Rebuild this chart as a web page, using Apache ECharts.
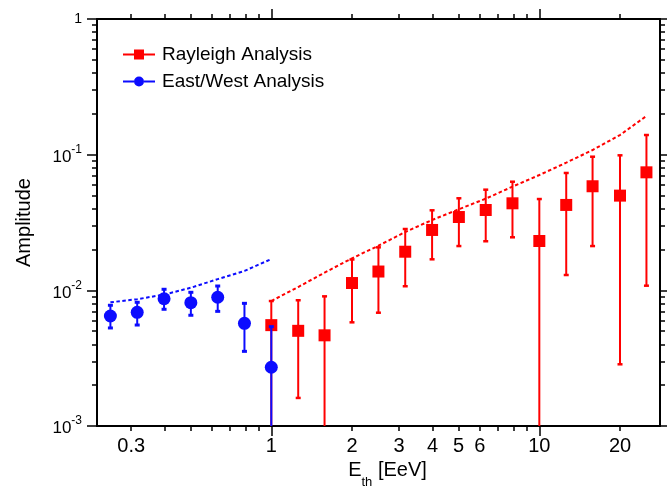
<!DOCTYPE html>
<html><head><meta charset="utf-8">
<script src="https://cdn.jsdelivr.net/npm/echarts@6/dist/echarts.min.js"></script>
<style>html,body{margin:0;padding:0;background:#fff}#c{width:667px;height:487px}</style>
</head><body><div id="c"></div>
<script>
// ---- data ----
const rayleighE    = [1.0, 1.26, 1.58, 2.0, 2.51, 3.16, 3.98, 5.01, 6.31, 7.94, 10.0, 12.6, 15.8, 20.0, 25.1];
const rayleighAmp  = [0.00554, 0.00503, 0.00466, 0.01132, 0.01376, 0.01926, 0.02786, 0.0347, 0.0391, 0.0438, 0.0231, 0.0426, 0.0585, 0.0499, 0.0741];
const rayleighLow  = [0, 0.00161, 0, 0.00581, 0.00684, 0.01072, 0.01693, 0.0212, 0.0230, 0.0246, 0, 0.01297, 0.0212, 0.00285, 0.01082];
const rayleighHigh = [0.00834, 0.00845, 0.00903, 0.01688, 0.02075, 0.02832, 0.0389, 0.0477, 0.0552, 0.0632, 0.0471, 0.0733, 0.0966, 0.0989, 0.1396];
const rayleighUL   = [0.00834, 0.01058, 0.0135, 0.01722, 0.02133, 0.0269, 0.0330, 0.0396, 0.0474, 0.0581, 0.0708, 0.0873, 0.1082, 0.1396, 0.1927];

const ewE    = [0.251, 0.316, 0.398, 0.501, 0.631, 0.794, 1.0];
const ewAmp  = [0.00647, 0.00689, 0.00867, 0.00811, 0.00889, 0.00571, 0.00271];
const ewLow  = [0.00528, 0.00555, 0.00725, 0.00655, 0.0070, 0.00355, 0];
const ewHigh = [0.00776, 0.00816, 0.01018, 0.00967, 0.01076, 0.00802, 0.0054];
const ewUL   = [0.00816, 0.0086, 0.0093, 0.01045, 0.0121, 0.0139, 0.0170];

const xTickLabels = [0.3, 1, 2, 3, 4, 5, 6, 10, 20];
const xMajorTicks = [1, 10];
const xMinorTicks = [0.3, 0.4, 0.5, 0.6, 0.7, 0.8, 0.9, 2, 3, 4, 5, 6, 7, 8, 9, 20];
const yTickLabels = [0.001, 0.01, 0.1, 1];
const yMinorMultipliers = [2, 3, 4, 5, 6, 7, 8, 9];

const X_MIN = 0.2237, X_MAX = 28.2, Y_MIN = 0.001, Y_MAX = 1;
const RED = '#ff0000', BLUE = '#0c0cff';
const FONT = 'Liberation Sans, Arial, sans-serif';

const yMinorTicks = [];
[0.001, 0.01, 0.1].forEach(d => yMinorMultipliers.forEach(m => yMinorTicks.push(+(m * d).toPrecision(3))));

const pts = (xs, ys) => xs.map((x, i) => [x, ys[i]]);
const errs = (xs, lo, hi) => xs.map((x, i) => [x, lo[i], hi[i]]);

function errRender(color, capW, capLw) {
  return function (params, api) {
    const x = api.value(0), lo = api.value(1), hi = api.value(2);
    const cs = params.coordSys;
    const pTop = api.coord([x, hi]);
    const yBot = lo > 0 ? api.coord([x, lo])[1] : cs.y + cs.height;
    const st = { stroke: color, lineWidth: 2, fill: null };
    const cst = { stroke: color, lineWidth: capLw, fill: null };
    const ch = [
      { type: 'line', shape: { x1: pTop[0], y1: pTop[1], x2: pTop[0], y2: yBot }, style: st },
      { type: 'line', shape: { x1: pTop[0] - capW, y1: pTop[1], x2: pTop[0] + capW, y2: pTop[1] }, style: cst }
    ];
    if (lo > 0) ch.push({ type: 'line', shape: { x1: pTop[0] - capW, y1: yBot, x2: pTop[0] + capW, y2: yBot }, style: cst });
    return { type: 'group', children: ch };
  };
}

function axBase(min, max, pos) {
  return {
    type: 'log', logBase: 10, min: min, max: max, position: pos,
    splitLine: { show: false }, minorTick: { show: false }, minorSplitLine: { show: false },
    axisLine: { show: false }, axisLabel: { show: false }, axisTick: { show: false }
  };
}
function tickCfg(vals, len) {
  return { show: true, inside: false, length: len, customValues: vals, lineStyle: { color: '#000', width: 1.5 } };
}
const axLine = { show: true, onZero: false, lineStyle: { color: '#000', width: 2 } };

const xAxes = [
  Object.assign(axBase(X_MIN, X_MAX, 'bottom'), {
    axisLine: axLine,
    axisTick: tickCfg(xMinorTicks, 5),
    axisLabel: {
      show: true, customValues: xTickLabels, margin: 10, color: '#000', fontSize: 20, fontFamily: FONT,
      formatter: v => String(+(+v).toPrecision(3))
    },
    name: '{m|E}{s|th}{m| [EeV]}', nameLocation: 'middle', nameGap: 34,
    nameTextStyle: {
      color: '#000', fontFamily: FONT, padding: [0, 0, 0, 18],
      rich: {
        m: { fontSize: 20, fontFamily: FONT, color: '#000', lineHeight: 20, verticalAlign: 'top' },
        s: { fontSize: 13, fontFamily: FONT, color: '#000', lineHeight: 28, verticalAlign: 'bottom' }
      }
    }
  }),
  Object.assign(axBase(X_MIN, X_MAX, 'bottom'), { axisTick: tickCfg(xMajorTicks, 10) }),
  Object.assign(axBase(X_MIN, X_MAX, 'top'), { axisLine: axLine, axisTick: tickCfg(xMinorTicks, 5) }),
  Object.assign(axBase(X_MIN, X_MAX, 'top'), { axisTick: tickCfg(xMajorTicks, 10) })
];

const yAxes = [
  Object.assign(axBase(Y_MIN, Y_MAX, 'left'), {
    axisLine: axLine,
    axisTick: tickCfg(yTickLabels, 10),
    axisLabel: {
      show: true, customValues: yTickLabels, margin: 15, color: '#000', fontFamily: FONT,
      formatter: v => {
        const e = Math.round(Math.log10(v));
        return e === 0 ? '{one|1}' : '{b|10}{s|' + e + '}';
      },
      rich: {
        one: { fontSize: 14, fontFamily: FONT, color: '#000' },
        b: { fontSize: 17, fontFamily: FONT, color: '#000', lineHeight: 22, verticalAlign: 'bottom' },
        s: { fontSize: 12, fontFamily: FONT, color: '#000', lineHeight: 12, verticalAlign: 'top' }
      }
    },
    name: 'Amplitude', nameLocation: 'middle', nameGap: 63, nameRotate: 90,
    nameTextStyle: { color: '#000', fontSize: 20, fontFamily: FONT }
  }),
  Object.assign(axBase(Y_MIN, Y_MAX, 'left'), { axisTick: tickCfg(yMinorTicks, 5) }),
  Object.assign(axBase(Y_MIN, Y_MAX, 'right'), { axisLine: axLine, axisTick: tickCfg(yTickLabels, 10) }),
  Object.assign(axBase(Y_MIN, Y_MAX, 'right'), { axisTick: tickCfg(yMinorTicks, 5) })
];

const chart = echarts.init(document.getElementById('c'), null, { renderer: 'canvas' });
chart.setOption({
  animation: false,
  backgroundColor: '#fff',
  grid: { left: 97, right: 7, top: 19, bottom: 61, containLabel: false, outerBoundsMode: 'none' },
  xAxis: xAxes,
  yAxis: yAxes,
  legend: {
    orient: 'vertical', left: 118, top: 40, itemGap: 8, itemWidth: 32, itemHeight: 10,
    textStyle: { color: '#000', fontSize: 19, fontFamily: FONT, padding: [0, 0, 0, 2] },
    data: [
      { name: 'Rayleigh Analysis', icon: 'path://M0,4L32,4L32,6L0,6Z M11,0L21,0L21,10L11,10Z' },
      { name: 'East/West Analysis', icon: 'path://M0,4L11,4L11,6L0,6Z M21,4L32,4L32,6L21,6Z M11,5A5,5 0 1,1 21,5A5,5 0 1,1 11,5Z' }
    ]
  },
  series: [
    { name: 'Rayleigh UL', type: 'line', data: pts(rayleighE, rayleighUL), symbol: 'none', z: 1, silent: true,
      lineStyle: { color: RED, width: 2, type: [3.5, 2.5] } },
    { name: 'EW UL', type: 'line', data: pts(ewE, ewUL), symbol: 'none', z: 1, silent: true,
      lineStyle: { color: BLUE, width: 2, type: [3.5, 2.5] } },
    { name: 'Rayleigh err', type: 'custom', data: errs(rayleighE, rayleighLow, rayleighHigh), z: 2,
      encode: { x: 0, y: [1, 2] }, renderItem: errRender(RED, 2.5, 2.5) },
    { name: 'Rayleigh Analysis', type: 'scatter', data: pts(rayleighE, rayleighAmp), z: 3,
      symbol: 'rect', symbolSize: 12, itemStyle: { color: RED, opacity: 1 } },
    { name: 'EW err', type: 'custom', data: errs(ewE, ewLow, ewHigh), z: 4,
      encode: { x: 0, y: [1, 2] }, renderItem: errRender(BLUE, 2.5, 3) },
    { name: 'East/West Analysis', type: 'scatter', data: pts(ewE, ewAmp), z: 5,
      symbol: 'circle', symbolSize: 13, itemStyle: { color: BLUE, opacity: 1 } }
  ]
});
</script>
</body></html>
